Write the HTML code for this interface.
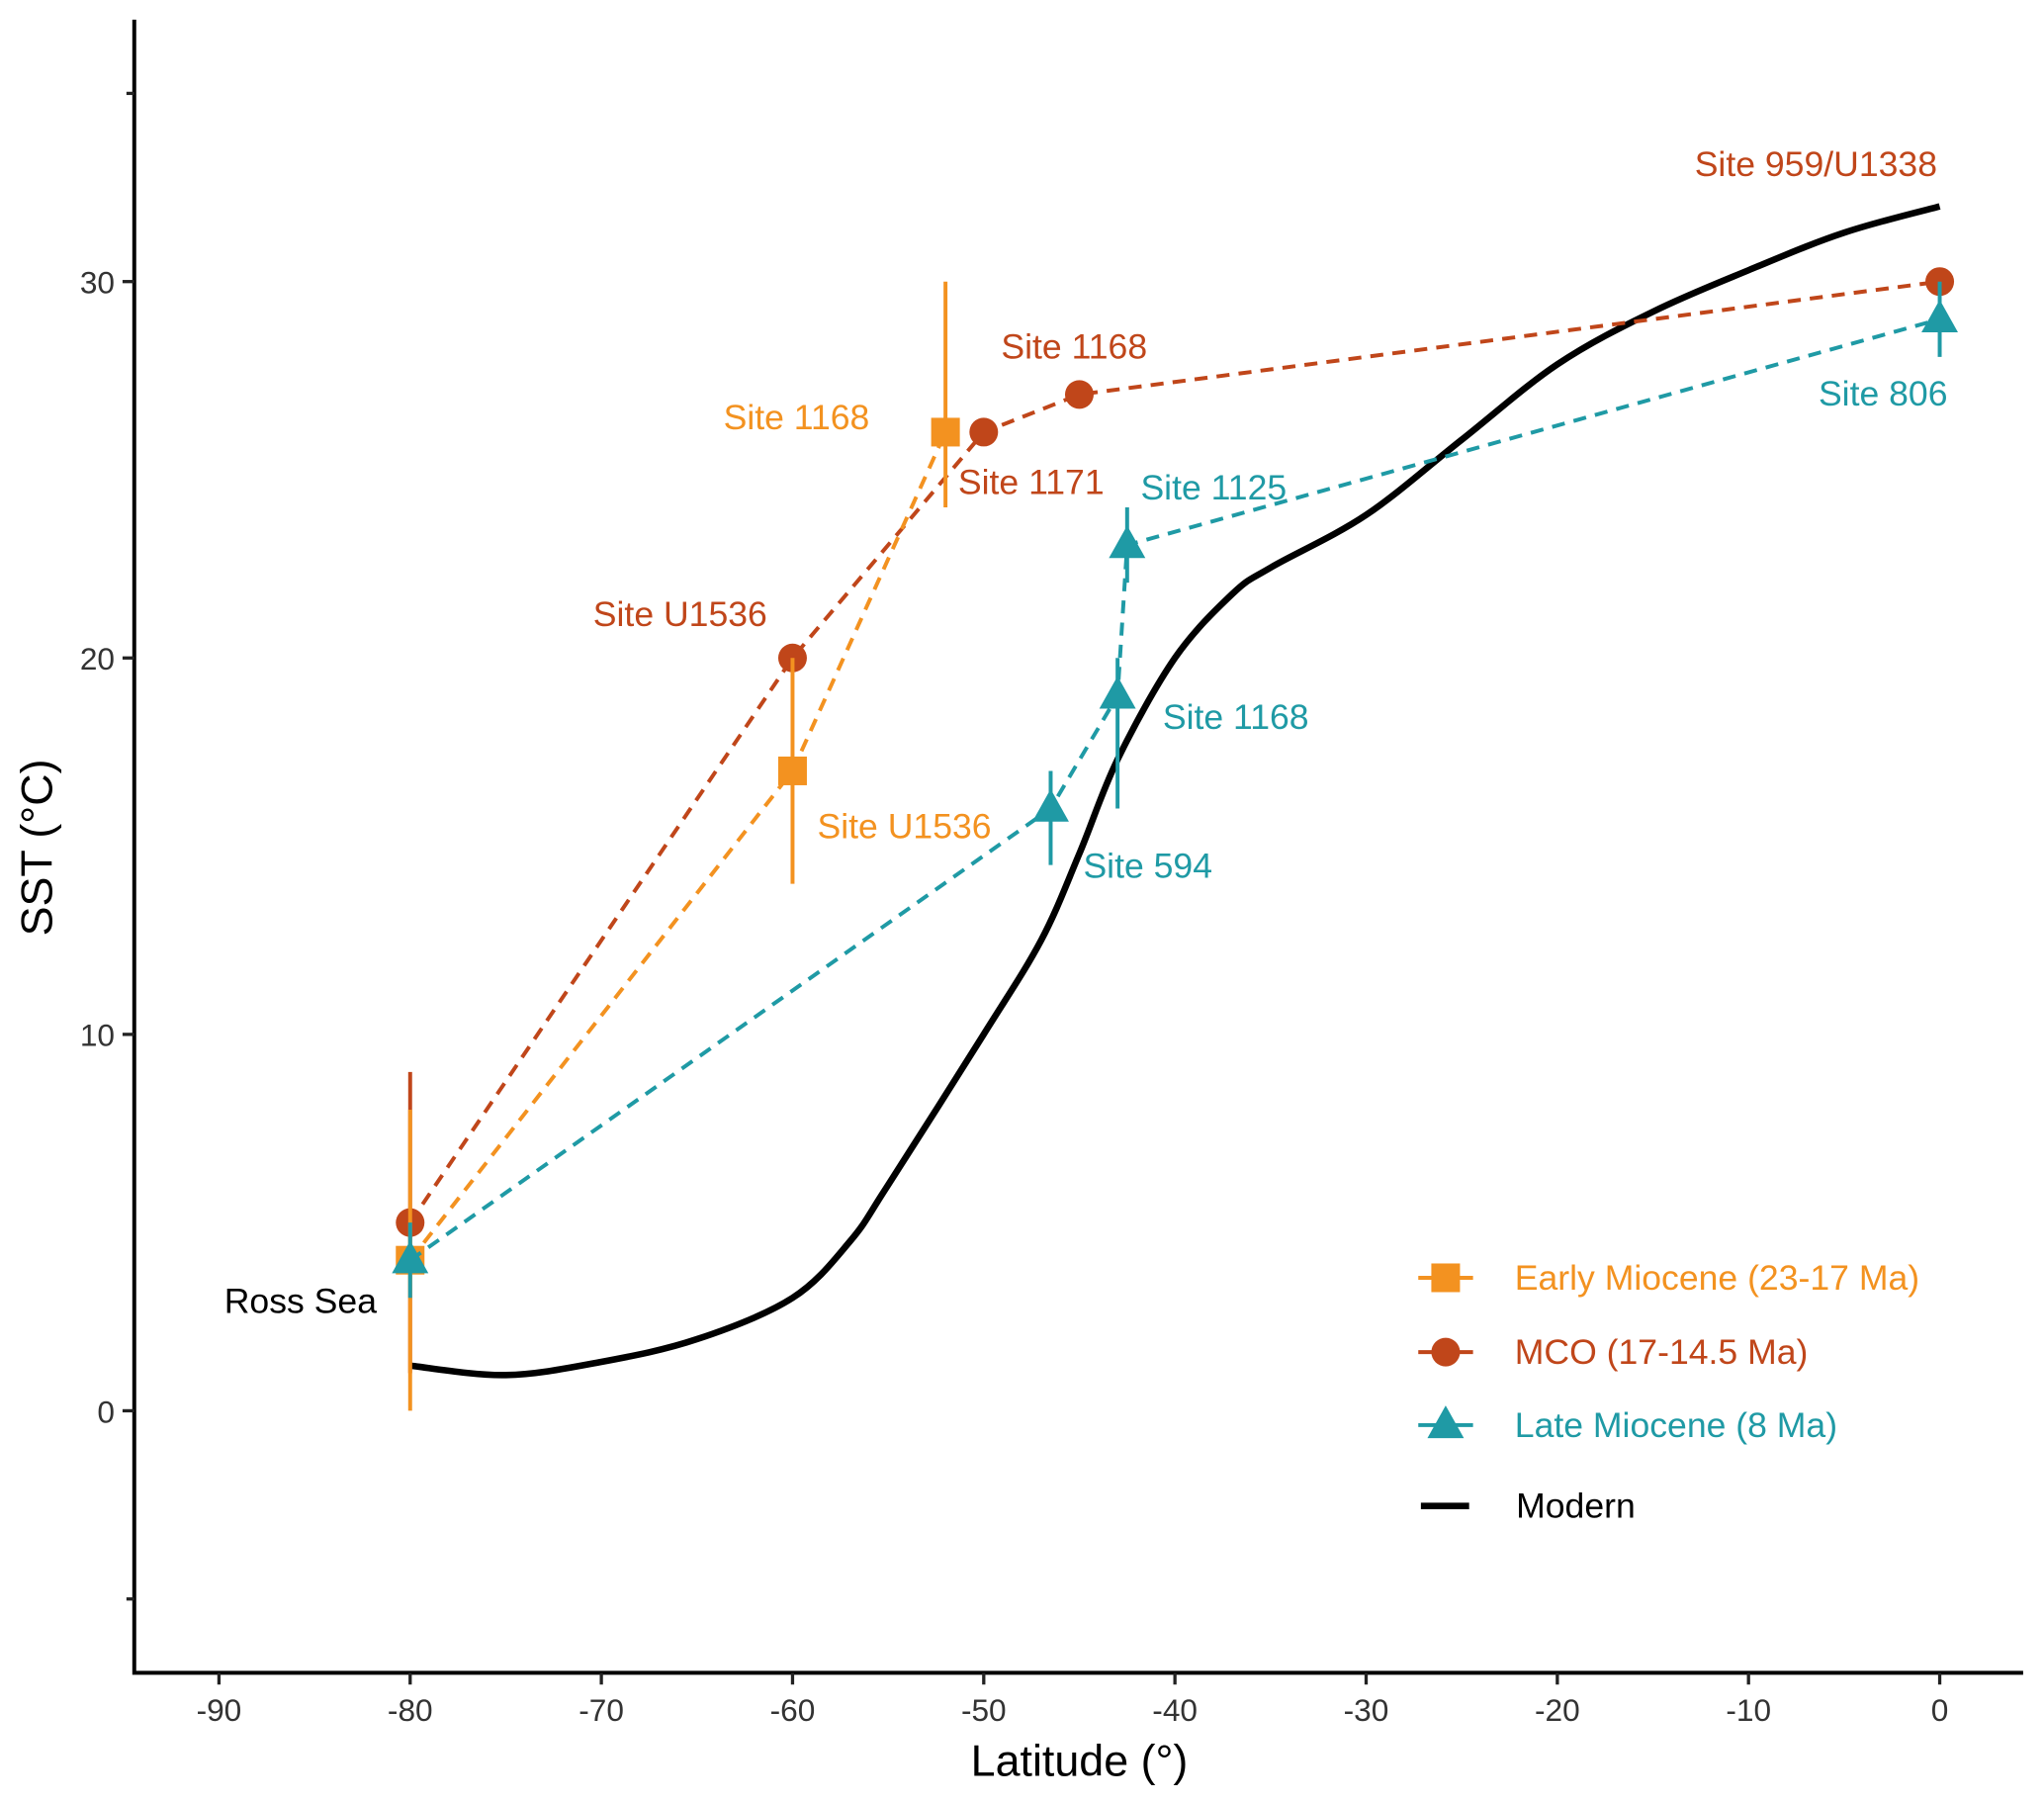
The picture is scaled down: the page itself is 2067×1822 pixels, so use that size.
<!DOCTYPE html>
<html><head><meta charset="utf-8"><style>html,body{margin:0;padding:0;background:#fff}svg{display:block}text{font-family:"Liberation Sans",Arial,sans-serif}</style></head>
<body>
<svg id="chart" width="2067" height="1822" viewBox="0 0 1568 1382" xmlns="http://www.w3.org/2000/svg">
<g id="axes"></g>
<g id="marks"></g>
<g id="labels"></g>
<g id="legend"></g>
</svg>
<script>
const xTicks = [-90,-80,-70,-60,-50,-40,-30,-20,-10,0];
const yTicks = [0,10,20,30];
const yMinorTicks = [-5,35];
const earlyLat = [-80,-60,-52];
const earlySST = [4,17,26];
const earlyLo = [0,14,24];
const earlyHi = [8,20,30];
const mcoLat = [-80,-60,-50,-45,0];
const mcoSST = [5,20,26,27,30];
const mcoLo = [1,null,null,null,null];
const mcoHi = [9,null,null,null,null];
const lateLat = [-80,-46.5,-43,-42.5,0];
const lateSST = [4,16,19,23,29];
const lateLo = [3,14.5,16,22,28];
const lateHi = [5,17,20,24,30];
const modernLat = [-80,-75,-70,-65,-60,-57,-55,-50,-47,-45,-43,-40,-37,-35,-30,-25,-20,-15,-10,-5,0];
const modernSST = [1.2,0.95,1.3,1.9,3,4.5,6,10,12.5,14.8,17.3,20,21.7,22.4,23.8,25.8,27.8,29.2,30.3,31.3,32];

const NS='http://www.w3.org/2000/svg';
const X = v => 1488 + v*14.667;
const Y = v => 1082 - v*28.87;
function mk(tag, attrs, parent){const e=document.createElementNS(NS,tag);for(const k in attrs)e.setAttribute(k,attrs[k]);parent.appendChild(e);return e;}
const axes=document.getElementById('axes'), marks=document.getElementById('marks'), labels=document.getElementById('labels'), legend=document.getElementById('legend');

let ax=mk('path',{d:'M103 15 V1283 H1552',fill:'none',stroke:'#000','stroke-width':3},axes);


xTicks.forEach(t=>{
  const l=mk('line',{x1:X(t),x2:X(t),y1:1283,y2:1292,stroke:'#222','stroke-width':2.5},axes);
  
  
  const tx=mk('text',{x:X(t),y:1320,'text-anchor':'middle','font-size':24,fill:'#333'},axes);
  tx.textContent=t;
  
  
});
yTicks.forEach(t=>{
  const l=mk('line',{x1:94,x2:103,y1:Y(t),y2:Y(t),stroke:'#222','stroke-width':2.5},axes);
  
  
  const tx=mk('text',{x:88,y:Y(t)+9,'text-anchor':'end','font-size':24,fill:'#333'},axes);
  tx.textContent=t;
  
  
});
yMinorTicks.forEach(t=>{
  const l=mk('line',{x1:97,x2:103,y1:Y(t),y2:Y(t),stroke:'#222','stroke-width':2.5},axes);
  
  
});
let xt=mk('text',{x:828,y:1362,'text-anchor':'middle','font-size':34,fill:'#000'},axes);
xt.textContent='Latitude (°)';


let yt=mk('text',{x:0,y:0,transform:'translate(40,650) rotate(-90)','text-anchor':'middle','font-size':34,fill:'#000'},axes);
yt.textContent='SST (°C)';



const pts=modernLat.map((v,i)=>[X(v),Y(modernSST[i])]);
let d='M'+pts[0][0].toFixed(1)+' '+pts[0][1].toFixed(1);
for(let i=0;i<pts.length-1;i++){
  const p0=pts[Math.max(0,i-1)],p1=pts[i],p2=pts[i+1],p3=pts[Math.min(pts.length-1,i+2)];
  const c1=[p1[0]+(p2[0]-p0[0])/6,p1[1]+(p2[1]-p0[1])/6];
  const c2=[p2[0]-(p3[0]-p1[0])/6,p2[1]-(p3[1]-p1[1])/6];
  d+=` C${c1[0].toFixed(1)} ${c1[1].toFixed(1)} ${c2[0].toFixed(1)} ${c2[1].toFixed(1)} ${p2[0].toFixed(1)} ${p2[1].toFixed(1)}`;
}
let mp=mk('path',{d:d,fill:'none',stroke:'#000','stroke-width':5,'stroke-linejoin':'round'},marks);



const ORANGE='#F39220', BROWN='#C0461A', TEAL='#1F9AA5';
function series(lat,sst,lo,hi,col,shape,name){
  const g=mk('g',{},marks);
  
  
  lat.forEach((v,i)=>{ if(lo[i]!=null){
    const e=mk('line',{x1:X(v),x2:X(v),y1:Y(lo[i]),y2:Y(hi[i]),stroke:col,'stroke-width':3},g);
    
    
  }});
  const p=mk('path',{d:lat.map((v,i)=>(i?'L':'M')+X(v)+' '+Y(sst[i])).join(' '),fill:'none',stroke:col,'stroke-width':3,'stroke-dasharray':'10 7'},g);
  
  
  lat.forEach((v,i)=>{
    const el=marker(X(v),Y(sst[i]),col,shape,g);
    
    
  });
}
function marker(x,y,col,shape,g){
  if(shape==='sq') return mk('rect',{x:x-11,y:y-11,width:22,height:22,fill:col},g);
  if(shape==='ci') return mk('circle',{cx:x,cy:y,r:11,fill:col},g);
  return mk('polygon',{points:`${x},${y-15} ${x-14},${y+10} ${x+14},${y+10}`,fill:col},g);
}
series(mcoLat,mcoSST,mcoLo,mcoHi,BROWN,'ci','mco');
series(earlyLat,earlySST,earlyLo,earlyHi,ORANGE,'sq','early-miocene');
series(lateLat,lateSST,lateLo,lateHi,TEAL,'tr','late-miocene');

const ann=[['Site 959/U1338',1300,135,BROWN],['Site 1168',768,275,BROWN],['Site 1168',555,329,ORANGE],['Site 1171',735,379,BROWN],['Site 1125',875,383,TEAL],['Site U1536',455,480,BROWN],['Site 1168',892,559,TEAL],['Site U1536',627,643,ORANGE],['Site 594',831,673,TEAL],['Site 806',1395,311,TEAL],['Ross Sea',172,1007,'#000']];
ann.forEach(a=>{
  const t=mk('text',{x:a[1],y:a[2],'font-size':27,fill:a[3]},labels);
  t.textContent=a[0];
  
  
});

const leg=[['Early Miocene (23-17 Ma)',ORANGE,'sq',980],['MCO (17-14.5 Ma)',BROWN,'ci',1037],['Late Miocene (8 Ma)',TEAL,'tr',1093]];
leg.forEach(r=>{
  const g=mk('g',{},legend);
  
  
  mk('line',{x1:1088,x2:1130,y1:r[3],y2:r[3],stroke:r[1],'stroke-width':3},g);
  marker(1109,r[3],r[1],r[2],g);
  const t=mk('text',{x:1162,y:r[3]+9,'font-size':27,fill:r[1]},g);
  t.textContent=r[0];
});
const gm=mk('g',{},legend);


mk('line',{x1:1090,x2:1127,y1:1155,y2:1155,stroke:'#000','stroke-width':5},gm);
const tm=mk('text',{x:1163,y:1164,'font-size':27,fill:'#000'},gm);
tm.textContent='Modern';
</script>
</body></html>
